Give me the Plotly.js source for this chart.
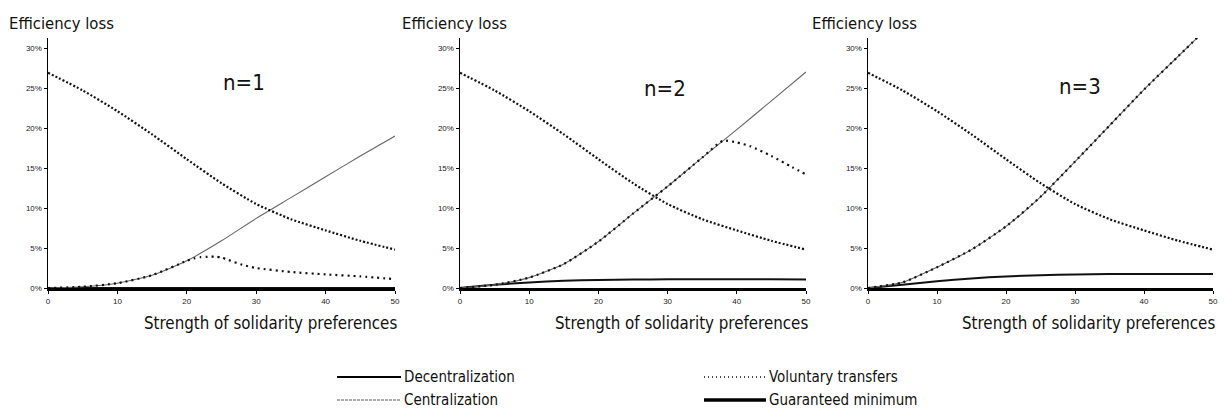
<!DOCTYPE html>
<html><head><meta charset="utf-8">
<script src="https://cdn.plot.ly/plotly-3.0.1.min.js"></script>
<style>html,body{margin:0;padding:0;background:#fff}#chart{width:1226px;height:418px}</style>
</head><body><div id="chart"></div>
<script>
// ---- data ----
const xVals = [0,5,10,15,20,25,30,35,40,45,50];
const decentralization = [0.269,0.247,0.221,0.192,0.161,0.131,0.105,0.086,0.072,0.059,0.048];

const centralizationN1 = [0,0.0015,0.006,0.016,0.034,0.059,0.087,0.113,0.139,0.165,0.190];
const voluntaryN1X = [0,5,10,15,20,21,22,23,24,25,26,28,30,35,40,45,50];
const voluntaryN1 = [0,0.0015,0.006,0.016,0.034,0.037,0.0385,0.039,0.0392,0.038,0.035,0.029,0.025,0.020,0.017,0.0145,0.011];
const guaranteedN1 = [0,0,0,0,0,0,0,0,0,0,0];

const centralizationN2 = [0,0.004,0.013,0.030,0.058,0.093,0.127,0.163,0.198,0.234,0.270];
const voluntaryN2X = [0,5,10,15,20,25,30,35,38,40,42,45,48,50];
const voluntaryN2 = [0,0.004,0.013,0.030,0.058,0.093,0.127,0.163,0.184,0.182,0.177,0.165,0.151,0.142];
const guaranteedN2 = [0,0.004,0.007,0.009,0.010,0.0105,0.011,0.011,0.011,0.011,0.0105];

const centralizationN3 = [0,0.007,0.026,0.048,0.077,0.114,0.158,0.203,0.248,0.290,0.332];
const voluntaryN3 = [0,0.007,0.026,0.048,0.077,0.114,0.158,0.203,0.248,0.290,0.332];
const guaranteedN3 = [0,0.004,0.0085,0.012,0.0145,0.016,0.017,0.0175,0.0175,0.0175,0.0175];

const panelLabels = ['n=1','n=2','n=3'];
const seriesNames = ['Decentralization','Centralization','Voluntary transfers','Guaranteed minimum'];
const yTicks = [0,0.05,0.10,0.15,0.20,0.25,0.30];
const xTicks = [0,10,20,30,40,50];

const panels = [
  {c: centralizationN1, vx: voluntaryN1X, v: voluntaryN1, g: guaranteedN1},
  {c: centralizationN2, vx: voluntaryN2X, v: voluntaryN2, g: guaranteedN2},
  {c: centralizationN3, vx: xVals, v: voluntaryN3, g: guaranteedN3}
];

const FONT = '"DejaVu Sans Condensed", "Liberation Sans Narrow", Arial, sans-serif';
const W = 1226, H = 418;
const px = v => v / W;
const py = v => (H - v) / H;

const styles = {
  dec: {color:'#111', width:2.2, dash:'2px,2px'},
  cen: {color:'#666', width:1.1, dash:'solid'},
  vol: {color:'#111', width:2.2, dash:'2px,4px'},
  gua: {color:'#111', width:2, dash:'solid'}
};

const traces = [];
panels.forEach((p, i) => {
  const xa = i === 0 ? 'x' : 'x' + (i + 1);
  const ya = i === 0 ? 'y' : 'y' + (i + 1);
  const sp = {shape:'spline', smoothing:0.6};
  traces.push({x:xVals, y:p.g, xaxis:xa, yaxis:ya, mode:'lines', name:seriesNames[3], showlegend:false, line:Object.assign({}, styles.gua, sp)});
  traces.push({x:xVals, y:p.c, xaxis:xa, yaxis:ya, mode:'lines', name:seriesNames[1], showlegend:false, line:Object.assign({}, styles.cen, sp)});
  traces.push({x:p.vx, y:p.v, xaxis:xa, yaxis:ya, mode:'lines', name:seriesNames[2], showlegend:false, line:Object.assign({}, styles.vol, sp)});
  traces.push({x:xVals, y:decentralization, xaxis:xa, yaxis:ya, mode:'lines', name:seriesNames[0], showlegend:false, line:Object.assign({}, styles.dec, sp)});
});

const xDomains = [[48,395],[460,806],[868,1213]];
const layout = {
  width: W, height: H,
  margin: {l:0, r:0, t:0, b:0},
  paper_bgcolor: '#fff', plot_bgcolor: '#fff',
  showlegend: false,
  font: {family: FONT, color:'#111'},
  annotations: [],
  shapes: []
};

xDomains.forEach((d, i) => {
  const sfx = i === 0 ? '' : String(i + 1);
  layout['xaxis' + sfx] = {
    domain: [px(d[0]), px(d[1])], range: [0, 50], anchor: 'y' + sfx,
    tickvals: xTicks, ticks: 'outside', ticklen: 3, tickwidth: 1, tickcolor: '#000',
    showline: true, linewidth: 3, linecolor: '#000', showgrid: false, zeroline: false,
    tickfont: {family: 'Arial, "Liberation Sans", sans-serif', size: 8, color: '#222'}
  };
  layout['yaxis' + sfx] = {
    domain: [py(288), py(38)], range: [0, 0.3125], anchor: 'x' + sfx,
    tickvals: yTicks, tickformat: '.0%', ticks: 'outside', ticklen: 3, tickwidth: 1, tickcolor: '#000',
    showline: true, linewidth: 1.5, linecolor: '#000', showgrid: false, zeroline: false,
    tickfont: {family: 'Arial, "Liberation Sans", sans-serif', size: 8, color: '#222'}
  };
  layout.annotations.push({
    text: 'Efficiency loss', xref: 'paper', yref: 'paper',
    x: px([7, 400, 810][i]), y: py(23), xanchor: 'left', yanchor: 'middle',
    showarrow: false, font: {family: FONT, size: 16.5, color: '#111'}
  });
  layout.annotations.push({
    text: 'Strength of solidarity preferences', xref: 'paper', yref: 'paper',
    x: px(d[1] + 4), y: py(323), xanchor: 'right', yanchor: 'middle',
    showarrow: false, font: {family: FONT, size: 16.8, color: '#111'}
  });
  layout.annotations.push({
    text: panelLabels[i], xref: 'x' + sfx, yref: 'y' + sfx,
    x: [28.3, 29.6, 30.7][i], y: [0.257, 0.249, 0.252][i], xanchor: 'center', yanchor: 'middle',
    showarrow: false, font: {family: FONT, size: 22, color: '#111'}
  });
});

const legendItems = [
  {name: seriesNames[0], x0: 337, x1: 401, y: 377, line: {color:'#000', width:2, dash:'solid'}},
  {name: seriesNames[1], x0: 337, x1: 401, y: 400, line: {color:'#555', width:1, dash:'3px,1px'}},
  {name: seriesNames[2], x0: 704, x1: 766, y: 377, line: {color:'#111', width:1.3, dash:'1px,3px'}},
  {name: seriesNames[3], x0: 704, x1: 766, y: 400, line: {color:'#000', width:3.5, dash:'solid'}}
];
legendItems.forEach(it => {
  layout.shapes.push({type:'line', xref:'paper', yref:'paper', x0:px(it.x0), x1:px(it.x1), y0:py(it.y), y1:py(it.y), line: it.line});
  layout.annotations.push({
    text: it.name, xref:'paper', yref:'paper', x: px(it.x1 + 1), y: py(it.y),
    xanchor:'left', yanchor:'middle', showarrow:false, font:{family: FONT, size: 15, color:'#111'}
  });
});

Plotly.newPlot('chart', traces, layout, {staticPlot: true, displayModeBar: false});
</script>
</body></html>
